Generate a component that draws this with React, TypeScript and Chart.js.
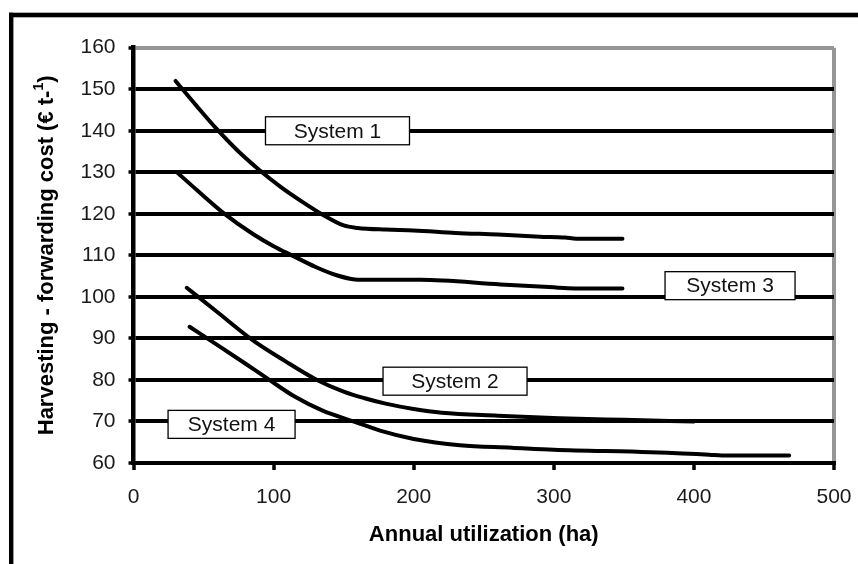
import React, { useEffect, useRef } from 'react';
import { Chart, registerables } from 'chart.js';

Chart.register(...registerables);

// ---- data ----
const system1X = [30, 45, 60, 75, 90, 105, 120, 135, 150, 160, 180, 200, 230, 260, 290, 308, 316, 349];
const system1Y = [152, 146, 140.2, 135, 130.5, 126.5, 123, 119.8, 117.2, 116.6, 116.2, 116, 115.4, 115, 114.5, 114.3, 114, 114];

const system3X = [31, 45, 65, 85, 100, 113, 130, 145, 158, 170, 205, 262, 300, 310, 349];
const system3Y = [130, 125.8, 120, 115.2, 112.2, 110, 107.2, 105.2, 104.2, 104.1, 104.1, 103, 102.3, 102.1, 102];

const system2X = [38, 60, 85, 108, 131, 150, 165, 180, 200, 220, 260, 304, 350, 400];
const system2Y = [102.2, 96.3, 89.6, 84.6, 80, 77.2, 75.6, 74.3, 73, 72.1, 71.4, 70.8, 70.4, 70];

const system4X = [40, 60, 80, 97, 115, 135, 159, 176, 200, 233, 270, 300, 369, 411, 420, 468];
const system4Y = [92.8, 88.4, 83.9, 80, 76, 72.6, 69.8, 67.8, 65.8, 64.3, 63.7, 63.2, 62.6, 62, 61.8, 61.8];

const labelTexts = ['System 1', 'System 2', 'System 3', 'System 4'];
const labelX = [145.6, 229.5, 425.8, 70];
const labelY = [140, 79.7, 102.7, 69.3];
const labelW = [144, 144, 130, 127];

const xTitle = 'Annual utilization (ha)';
const yTitleMain = 'Harvesting - forwarding cost (€ t-';
const yTitleSup = '1';
const yTitleEnd = ')';

const FONT = '"Liberation Sans", Arial, sans-serif';

function toPoints(xs: number[], ys: number[]) {
  return xs.map((x, i) => ({ x, y: ys[i] }));
}

const decorPlugin = {
  id: 'decor',
  afterDatasetsDraw(chart: any) {
    const ctx = chart.ctx;
    const xs = chart.scales.x;
    const ys = chart.scales.y;
    ctx.save();
    ctx.font = `21px ${FONT}`;
    ctx.textAlign = 'center';
    ctx.textBaseline = 'middle';
    for (let i = 0; i < labelTexts.length; i++) {
      const cx = xs.getPixelForValue(labelX[i]);
      const cy = ys.getPixelForValue(labelY[i]);
      const w = labelW[i];
      const h = 28;
      ctx.fillStyle = '#fff';
      ctx.fillRect(cx - w / 2, cy - h / 2, w, h);
      ctx.strokeStyle = '#000';
      ctx.lineWidth = 1.3;
      ctx.strokeRect(cx - w / 2, cy - h / 2, w, h);
      ctx.fillStyle = '#111';
      ctx.fillText(labelTexts[i], cx, cy + 1);
    }
    ctx.restore();
  },
  afterDraw(chart: any) {
    const ctx = chart.ctx;
    const area = chart.chartArea;
    ctx.save();
    ctx.fillStyle = '#000';
    ctx.fillRect(9, 12.7, 900, 4.6);
    ctx.fillRect(9, 12.7, 4.4, 600);
    ctx.font = `bold 22px ${FONT}`;
    ctx.textAlign = 'center';
    ctx.textBaseline = 'middle';
    ctx.fillText(xTitle, (area.left + area.right) / 2, 535);
    ctx.translate(47, (area.top + area.bottom) / 2);
    ctx.rotate(-Math.PI / 2);
    ctx.textAlign = 'left';
    const mainFont = `bold 22px ${FONT}`;
    const supFont = `bold 14px ${FONT}`;
    ctx.font = mainFont;
    const w1 = ctx.measureText(yTitleMain).width;
    const w3 = ctx.measureText(yTitleEnd).width;
    ctx.font = supFont;
    const w2 = ctx.measureText(yTitleSup).width;
    const total = w1 + w2 + w3;
    let x0 = -total / 2;
    ctx.font = mainFont;
    ctx.fillText(yTitleMain, x0, 0);
    x0 += w1;
    ctx.font = supFont;
    ctx.fillText(yTitleSup, x0, -8);
    x0 += w2;
    ctx.font = mainFont;
    ctx.fillText(yTitleEnd, x0, 0);
    ctx.restore();
  },
};

export default function App() {
  const canvasRef = useRef<HTMLCanvasElement | null>(null);

  useEffect(() => {
    document.body.style.margin = '0';
    const canvas = canvasRef.current;
    if (!canvas) return;
    const lineDs = (xs: number[], ys: number[], label: string) => ({
      label,
      data: toPoints(xs, ys),
      showLine: true,
      borderColor: '#000',
      borderWidth: 4,
      pointRadius: 0,
      pointHoverRadius: 0,
      cubicInterpolationMode: 'monotone' as const,
      borderCapStyle: 'round' as const,
      borderJoinStyle: 'round' as const,
      fill: false,
    });
    const chart = new Chart(canvas, {
      type: 'scatter',
      data: {
        datasets: [
          lineDs(system1X, system1Y, 'System 1'),
          lineDs(system3X, system3Y, 'System 3'),
          lineDs(system2X, system2Y, 'System 2'),
          lineDs(system4X, system4Y, 'System 4'),
        ],
      },
      options: {
        animation: false,
        responsive: true,
        maintainAspectRatio: false,
        events: [],
        layout: { padding: { left: 0, top: 47.7, right: 24, bottom: 0 } },
        plugins: {
          legend: { display: false },
          tooltip: { enabled: false },
          title: { display: false },
        },
        scales: {
          x: {
            type: 'linear',
            min: 0,
            max: 500,
            afterFit: (scale: any) => {
              scale.height = 101;
              scale.paddingLeft = 0;
              scale.paddingRight = 0;
            },
            ticks: {
              stepSize: 100,
              color: '#1a1a1a',
              font: { family: FONT, size: 21 },
              padding: 15,
              maxRotation: 0,
            },
            grid: {
              color: (c: any) => (c.tick && c.tick.value === 500 ? '#969696' : 'rgba(0,0,0,0)'),
              lineWidth: 4,
              tickColor: '#000',
              tickLength: 7,
              tickWidth: 3.5,
            },
            border: { display: true, color: '#000', width: 4 },
          },
          y: {
            type: 'linear',
            min: 60,
            max: 160,
            afterFit: (scale: any) => {
              scale.width = 133.5;
              scale.paddingTop = 0;
              scale.paddingBottom = 0;
            },
            ticks: {
              stepSize: 10,
              color: '#1a1a1a',
              font: { family: FONT, size: 21 },
              padding: 13,
            },
            grid: {
              color: (c: any) => (c.tick && c.tick.value === 160 ? '#969696' : '#000'),
              lineWidth: 4,
              tickColor: '#000',
              tickLength: 5,
              tickWidth: 3.5,
            },
            border: { display: true, color: '#000', width: 4.5 },
          },
        },
      },
      plugins: [decorPlugin],
    });
    return () => chart.destroy();
  }, []);

  return (
    <div style={{ position: 'fixed', left: 0, top: 0, width: 858, height: 564, background: '#fff' }}>
      <canvas ref={canvasRef} />
    </div>
  );
}
